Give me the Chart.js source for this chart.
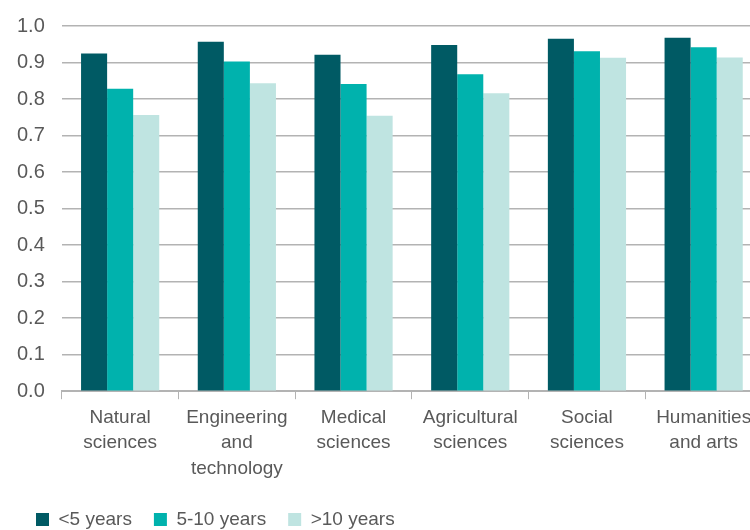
<!DOCTYPE html>
<html lang="en">
<head>
  <meta charset="UTF-8" />
  <title>Share by field and years</title>
  <style>
    body {
      margin: 0;
      background: #ffffff;
      overflow: hidden;
    }
    .wrap {
      width: 762px;
      height: 530px;
    }
  </style>
</head>
<body>
  <div class="wrap">
    <canvas id="fieldChart" width="762" height="530"></canvas>
  </div>

  <script src="https://cdn.jsdelivr.net/npm/chart.js"></script>
  <script>
    const categories = [
      ["Natural", "sciences"],
      ["Engineering", "and", "technology"],
      ["Medical", "sciences"],
      ["Agricultural", "sciences"],
      ["Social", "sciences"],
      ["Humanities", "and arts"]
    ];
    const seriesNames = ["<5 years", "5-10 years", ">10 years"];
    const under5 = [0.925, 0.957, 0.921, 0.948, 0.965, 0.968];
    const from5to10 = [0.828, 0.903, 0.841, 0.868, 0.931, 0.942];
    const over10 = [0.756, 0.843, 0.754, 0.816, 0.913, 0.914];
    const yTicks = [0, 0.1, 0.2, 0.3, 0.4, 0.5, 0.6, 0.7, 0.8, 0.9, 1.0];

    const textGrey = "#595959";
    const gridGrey = "#b3b3b3";

    // place the legend where the original has it
    const legendShift = {
      id: "legendShift",
      beforeDraw(chart) {
        const lg = chart.legend;
        if (lg && !lg._shifted) {
          const dx = 14;
          lg.left += dx;
          lg.right += dx;
          lg.legendHitBoxes.forEach(b => { b.left += dx; });
          lg.top = 488;
          lg._shifted = true;
        }
      }
    };

    const ctx = document.getElementById("fieldChart").getContext("2d");
    new Chart(ctx, {
      type: "bar",
      data: {
        labels: categories,
        datasets: [
          { label: seriesNames[0], data: under5, backgroundColor: "#005a64" },
          { label: seriesNames[1], data: from5to10, backgroundColor: "#00b2ad" },
          { label: seriesNames[2], data: over10, backgroundColor: "#bfe4e1" }
        ]
      },
      options: {
        responsive: false,
        animation: false,
        layout: {
          padding: { left: 0, top: 0, right: 0, bottom: 0 }
        },
        datasets: {
          bar: {
            categoryPercentage: 0.67,
            barPercentage: 1.0
          }
        },
        scales: {
          x: {
            grid: {
              offset: true,
              drawOnChartArea: false,
              drawTicks: true,
              tickLength: 8,
              color: gridGrey
            },
            border: { display: true, color: gridGrey, width: 2 },
            ticks: {
              color: textGrey,
              padding: 6,
              maxRotation: 0,
              autoSkip: false,
              font: { family: "Liberation Sans", size: 19, lineHeight: 1.33 }
            }
          },
          y: {
            min: 0,
            max: 1,
            afterBuildTicks: axis => {
              axis.ticks = yTicks.map(v => ({ value: v }));
            },
            afterFit: axis => {
              axis.paddingTop = 26;
            },
            grid: {
              drawTicks: false,
              color: gridGrey,
              lineWidth: 1.5
            },
            border: { display: false },
            ticks: {
              color: textGrey,
              padding: 17,
              font: { family: "Liberation Sans", size: 20 },
              callback: value => value.toFixed(1)
            }
          }
        },
        plugins: {
          legend: {
            position: "bottom",
            align: "start",
            maxHeight: 43,
            labels: {
              color: textGrey,
              boxWidth: 13,
              boxHeight: 13,
              padding: 22,
              font: { family: "Liberation Sans", size: 19 }
            }
          },
          tooltip: { enabled: false }
        }
      },
      plugins: [legendShift]
    });
  </script>
</body>
</html>
